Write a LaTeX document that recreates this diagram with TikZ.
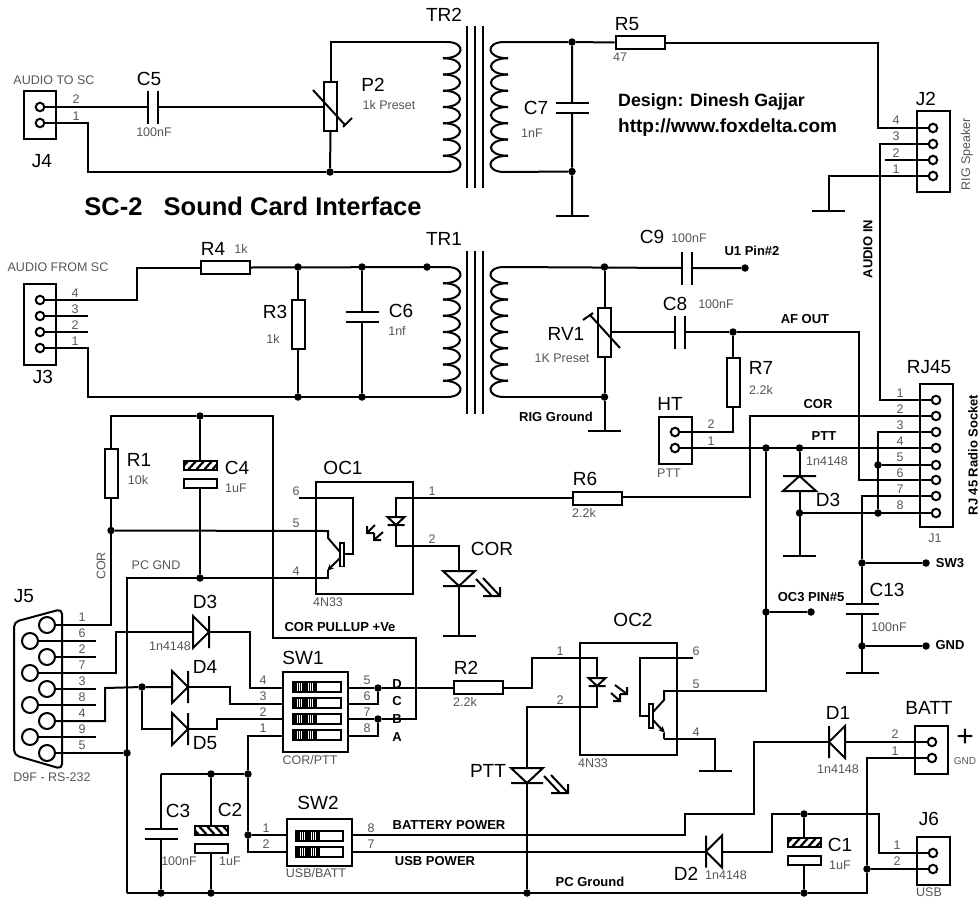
\documentclass[tikz,border=0pt]{standalone}
\usepackage{fontspec}
\setmainfont{Liberation Sans}
\usetikzlibrary{arrows.meta}
\definecolor{lblgray}{HTML}{555555}
\tikzset{
  wire/.style={line width=2pt,line join=miter},
  pinc/.style={circle,draw,fill=white,line width=2pt,minimum size=8.5pt,inner sep=0pt},
  dbpin/.style={circle,draw,fill=white,line width=2pt,minimum size=16pt,inner sep=0pt},
  jdot/.style={circle,fill=black,minimum size=7.5pt,inner sep=0pt},
  boxn/.style={rectangle,draw,line width=2pt,inner sep=0pt},
  hres/.style={boxn,minimum width=49pt,minimum height=13pt},
  vres/.style={boxn,minimum width=13pt,minimum height=49pt},
  lbig/.style={inner sep=0pt,font=\fontsize{19}{20}\selectfont},
  lsmall/.style={inner sep=0pt,text=lblgray,font=\fontsize{12.5}{13}\selectfont},
  lpin/.style={inner sep=0pt,text=lblgray,font=\fontsize{12.5}{13}\selectfont},
  lbold/.style={inner sep=0pt,font=\fontsize{13}{14}\selectfont\bfseries},
  ldes/.style={inner sep=0pt,anchor=west,font=\bfseries},
}
% capacitor, plates across a horizontal wire
\newcommand\schCapH[3]{\draw[wire] (#2-5,#3-16.5)--(#2-5,#3+16.5) (#2+5,#3-16.5)--(#2+5,#3+16.5);
  \coordinate (#1-l) at (#2-5,#3); \coordinate (#1-r) at (#2+5,#3);}
% capacitor, plates across a vertical wire
\newcommand\schCapV[3]{\draw[wire] (#2-16.5,#3-5)--(#2+16.5,#3-5) (#2-16.5,#3+5)--(#2+16.5,#3+5);
  \coordinate (#1-t) at (#2,#3-5); \coordinate (#1-b) at (#2,#3+5);}
% polarised capacitor: x, top of hatched bar, hatch direction
\newcommand\schCapP[4]{%
  \begin{scope}
    \clip (#2-16.5,#3) rectangle (#2+16.5,#3+9);
    \foreach \k in {-24,-16,...,24}{\draw[line width=2.2pt] (#2+\k-5*#4,#3+10)--(#2+\k+5*#4,#3-1);}
  \end{scope}
  \draw[wire] (#2-16.5,#3) rectangle (#2+16.5,#3+9);
  \draw[wire] (#2-16.5,#3+18) rectangle (#2+16.5,#3+26.5);
  \coordinate (#1-t) at (#2,#3); \coordinate (#1-b) at (#2,#3+26.5);}
\newcommand\schGnd[3]{\draw[wire] (#2-16.5,#3)--(#2+16.5,#3); \coordinate (#1) at (#2,#3);}
% diode pointing right: x of base, y
\newcommand\schDioR[3]{\draw[wire] (#2,#3-16)--(#2,#3+16)--(#2+16,#3)--cycle (#2+16,#3-16)--(#2+16,#3+16);
  \coordinate (#1-a) at (#2,#3); \coordinate (#1-k) at (#2+16,#3);}
% diode pointing left: x of bar, y
\newcommand\schDioL[3]{\draw[wire] (#2+16,#3-16)--(#2+16,#3+16)--(#2,#3)--cycle (#2,#3-16)--(#2,#3+16);
  \coordinate (#1-a) at (#2+16,#3); \coordinate (#1-k) at (#2,#3);}
% LED pointing down with its two rays: x, y of triangle top
\newcommand\schLed[3]{\draw[wire] (#2-16,#3)--(#2+16,#3)--(#2,#3+15)--cycle (#2-16,#3+15)--(#2+16,#3+15);
  \draw[wire] (#2+17,#3+8)--(#2+33,#3+25) (#2+24,#3+7)--(#2+41,#3+25) (#2+24,#3+25)--(#2+41,#3+25)--(#2+41,#3+16);
  \coordinate (#1-a) at (#2,#3); \coordinate (#1-k) at (#2,#3+15);}
% small LED in an optocoupler
\newcommand\schLedS[3]{\draw[wire] (#2-8.5,#3)--(#2+8.5,#3)--(#2,#3+8)--cycle (#2-8.5,#3+8)--(#2+8.5,#3+8);
  \coordinate (#1-a) at (#2,#3); \coordinate (#1-k) at (#2,#3+8);}
% transformer winding: name, cusp x, side (+1 lobes right, -1 lobes left), top y
\newcommand\schCoil[4]{%
  \foreach \i in {1,...,6}{\draw[wire] (#2,#4+16.25*\i) .. controls (#2+#3*22.7,#4+16.25*\i) and (#2+#3*22.7,#4+16.25*\i+16.25) .. (#2,#4+16.25*\i+16.25);}
  \draw[wire] (#2+#3*4,#4) .. controls (#2+#3*22.7,#4) and (#2+#3*22.7,#4+16.25) .. (#2,#4+16.25);
  \draw[wire] (#2,#4+113.75) .. controls (#2+#3*22.7,#4+113.75) and (#2+#3*22.7,#4+130) .. (#2+#3*4,#4+130);
  \coordinate (#1-t) at (#2+#3*4,#4); \coordinate (#1-b) at (#2+#3*4,#4+130);}
% DIP switch toggle: x left, x split, x right, y top
\newcommand\schTog[4]{\draw[wire] (#1,#4) rectangle (#3,#4+10);
  \fill (#1,#4) rectangle (#1+1.5,#4+10);
  \foreach \k in {3.2,5.4,...,23}{\draw[line width=1.5pt] (#1+\k,#4)--(#1+\k,#4+10);}
  \fill (#2-2.5,#4) rectangle (#2,#4+10);}
\begin{document}
\begin{tikzpicture}[x=1pt,y=-1pt]
\useasboundingbox (0,0) rectangle (980,905);

% ---- components: top
\node[boxn,minimum width=32pt,minimum height=48pt] (J4) at (40,115) {};
\node[boxn,minimum width=13pt,minimum height=49pt] (P2) at (330.5,106.5) {};
\schCapH{C5}{153}{107}
\schCoil{T2L}{443}{1}{42}
\schCoil{T2R}{508}{-1}{42}
\foreach \x in {467,475,483}{\draw[wire] (\x,26)--(\x,188);}
\node[hres] (R5) at (640,42.5) {};
\schCapV{C7}{572}{108}
\schGnd{G7}{572}{216}
\node[boxn,minimum width=33pt,minimum height=81pt] (J2) at (933.5,151.5) {};
\schGnd{G2}{828.5}{211}

% ---- components: TR1
\node[boxn,minimum width=32pt,minimum height=81pt] (J3) at (40,324.5) {};
\node[hres] (R4) at (225.5,267.5) {};
\node[vres] (R3) at (298,324.5) {};
\schCapV{C6}{362}{316.5}
\schCoil{T1L}{443}{1}{267}
\schCoil{T1R}{508}{-1}{267}
\foreach \x in {467,475,483}{\draw[wire] (\x,251)--(\x,414);}
\schCapH{C9}{687}{268}
\node[vres] (RV1) at (604.5,332.5) {};
\schCapH{C8}{680}{332}
\node[vres] (R7) at (733,382) {};
\schGnd{G1}{604.5}{431}
\node[boxn,minimum width=33pt,minimum height=47pt] (HT) at (675.5,440.5) {};
\node[boxn,minimum width=33pt,minimum height=143pt] (J1) at (936.5,455.5) {};

% ---- components: middle
\node[vres] (R1) at (111,473.5) {};
\schCapP{C4}{200}{461}{1}
\node[boxn,minimum width=97pt,minimum height=112pt] (OC1) at (364.5,538) {};
\node[hres] (R6) at (597.5,498) {};
\schLedS{L1}{396}{517}
\schLed{LC}{459}{571}
\schGnd{GC}{459}{636}
\schDioR{D3a}{193}{632}
\schDioR{D4}{172}{687}
\schDioR{D5}{172}{729}
\node[boxn,minimum width=65pt,minimum height=80pt] (SW1) at (315.5,712) {};
\node[hres] (R2) at (478.5,687.5) {};
\node[boxn,minimum width=97pt,minimum height=112pt] (OC2) at (628.5,699) {};
\schLedS{L2}{597}{678}
\schLed{LP}{527}{768}
\schGnd{G3}{715}{771}
\node[boxn,minimum width=65pt,minimum height=47pt] (SW2) at (319.5,842.5) {};
\schCapP{C2}{211}{826}{-1}
\schCapV{C3}{161}{833.5}
\schCapV{C13}{862}{609}
\schGnd{G13}{862}{673}
\schGnd{G8}{799.5}{556}
\draw[wire] (783,476)--(816,476) (799.5,476)--(783,491)--(816,491)--cycle;
\coordinate (D3b-k) at (799.5,476); \coordinate (D3b-a) at (799.5,491);
\schDioL{D1}{829}{742}
\schDioL{D2}{706}{851.5}
\schCapP{C1}{804}{838}{1}
\node[boxn,minimum width=33pt,minimum height=48pt] (BATT) at (931.5,750) {};
\node[boxn,minimum width=33pt,minimum height=48pt] (J6) at (933.5,861) {};
\draw[wire,rounded corners=5pt] (14,622)--(62,609)--(62,769)--(14,755)--cycle;

% ---- junctions
\foreach \n/\x/\y in {a/330/172, b/572/42, c/572/171.5, d/298/267, e/362/267, f/427/267, g/298/397, h/362/397,
  i/604.5/267, j/745/268, k/604.5/397, l/733/332, m/200/416, n/111/530.5, o/200/578, p/127/753,
  q/142/687, r/378/688, s/378/719, t/248/774, u/211/774, v/248/835, w/161/893, x/211/893, y/527/893,
  z/804/814, aa/804/893, ab/867/869, ac/766/448, ad/799.5/448, ae/799.5/513, af/878/465, ag/878/513,
  ah/862/563, ai/862/646, aj/766/612}
  {\node[jdot] (\n) at (\x,\y) {};}
\node[jdot] (sw3) at (926,563) {};
\node[jdot] (gndp) at (926,646) {};
\node[jdot] (oc3) at (811,612) {};

% ---- connector pins
\foreach \n/\x/\y in {J4a/40/107, J4b/40/123, J3d/40/300, J3c/40/316, J3b/40/332, J3a/40/348,
  J2d/933/128, J2c/933/144, J2b/933/160, J2a/933/176, HTb/675/432, HTa/675/448,
  Ja/936/400, Jb/936/416, Jc/936/432, Jd/936/448, Je/936/465, Jf/936/480, Jg/936/496, Jh/936/513,
  BATb/932/742, BATa/932/758, J6a/933/853, J6b/933/869}
  {\coordinate (\n) at (\x,\y);}

% ---- wires: top
\draw[wire] (J4a)--(C5-l) (C5-r)--(P2.west |- C5-r);
\draw[wire] (P2.north) |- (T2L-t);
\draw[wire] (P2.south)--(a);
\draw[wire] (J4b)--(88,123)|-(a.west) (a)--(T2L-b);
\draw[wire] (T2R-t)--(b)--(R5.west);
\draw[wire] (R5.east)-|(878,128)--(J2d);
\draw[wire] (b)--(C7-t) (C7-b)--(c) (c)--(G7) (c)--(T2R-b);
\draw[wire] (J2c)--(880,144)|-(Ja);
\draw[wire] (885,160)--(J2b);
\draw[wire] (J2a)-|(G2);

% ---- wires: TR1
\draw[wire] (J3d)--(137,300)|-(R4.west);
\draw[wire] (R4.east)--(T1L-t);
\draw[wire] (d)--(R3.north) (R3.south)--(g);
\draw[wire] (e)--(C6-t) (C6-b)--(h);
\draw[wire] (J3c)--(88,316) (J3b)--(88,332);
\draw[wire] (J3a)--(88,348)|-(T1L-b);
\draw[wire] (T1R-t)--(C9-l) (C9-r)--(j);
\draw[wire] (i)--(RV1.north) (RV1.south)--(k)--(G1) (k)--(T1R-b);
\draw[wire] (RV1.east |- C8-l)--(C8-l) (C8-r)--(l);
\draw[wire] (l)--(859,332)|-(Jf);
\draw[wire] (l)--(R7.north);
\draw[wire] (R7.south)|-(HTb);
\draw[wire] (HTa)--(Jd);
\draw[wire] (Jb)-|(750,497)--(R6.east |- 0,497);
\draw[wire] (R6.west)--(396,498)--(L1-a);
\draw[wire] (L1-k)--(396,546)-|(LC-a);
\draw[wire] (LC-k)--(GC);
\draw[wire] (Jc)-|(ag);
\draw[wire] (af)--(Je);
\draw[wire] (ae)--(Jh);
\draw[wire] (ad)--(D3b-k) (D3b-a)--(G8);
\draw[wire] (Jg)-|(ah) (ah)--(C13-t) (C13-b)--(G13);
\draw[wire] (ah)--(sw3) (ai)--(gndp);
\draw[wire] (ac)--(766,691)--(665,691);
\draw[wire] (aj)--(oc3);

% ---- wires: OC1, R1, C4
\draw[wire] (R1.north)|-(m.west) (m)--(273,416)--(273,638)-|(416,719)--(s);
\draw[wire] (R1.south)--(n) (n)--(111,625)--(47,625);
\draw[wire] (m)--(C4-t) (C4-b)--(o);
\draw[wire] (n)--(328,531)--(328,538)--(340,552);
\draw[wire] (127,893)--(127,578)--(328,578)--(328,570);
\draw[wire,-{Stealth[length=7pt,width=6pt]}] (340,558)--(327,571);
\draw[line width=1.4pt,fill=white] (340,543) rectangle (344,566.5);
\draw[wire] (299,498)--(353,498)--(353,554)--(344,554);
\draw[wire] (375,525)--(367,533) (367,526)--(367,533)--(374,533);
\draw[wire] (383,532)--(374,540) (374,533)--(374,540)--(381,540);

% ---- wires: J5
\draw[wire] (38,641)--(96,641) (47,657)--(96,657) (47,689)--(96,689) (38,705)--(96,705) (38,737)--(96,737);
\draw[wire] (38,673)--(116,673)--(116,632)--(D3a-a);
\draw[wire] (D3a-k)--(250,632)--(250,688)--(283,688);
\draw[wire] (47,721)--(105,721)--(105,688)--(q)--(D4-a);
\draw[wire] (q)|-(D5-a);
\draw[wire] (47,753)--(p);
\draw[wire] (D4-k)--(230,687)--(230,704)--(283,704);
\draw[wire] (D5-k)--(217,729)--(217,719)--(283,719);
\draw[wire] (283,736)--(248,736)--(t) (t)--(v) (v)--(287,835) (v)--(248,852)--(287,852);
\draw[wire] (161,774)--(t) (161,774)--(C3-t) (C3-b)--(w);
\draw[wire] (u)--(C2-t) (C2-b)--(x);
\draw[wire] (348,688)--(r) (r)--(R2.west |- r) (348,704)--(378,704)--(r);
\draw[wire] (348,719)--(s) (348,736)--(378,736)--(s);

% ---- wires: OC2
\draw[wire] (R2.east)-|(532,658)-|(L2-a);
\draw[wire] (L2-k)|-(527,707)--(LP-a);
\draw[wire] (LP-k)--(y);
\draw[wire] (693,658)--(640,658)--(640,716)--(649,716);
\draw[wire] (653,712)--(664,700)--(664,691)--(665,691);
\draw[wire] (664,739)--(664,733);
\draw[wire,-{Stealth[length=7pt,width=6pt]}] (653,720)--(665,733);
\draw[wire] (664,739)-|(G3);
\draw[line width=1.4pt,fill=white] (649,704) rectangle (653,728);
\draw[wire] (615,685)--(627,694) (627,687)--(627,694)--(620,694);
\draw[wire] (611,693)--(620,701) (620,694)--(620,701)--(613,701);

% ---- wires: power
\draw[wire] (BATb)--(D1-a) (D1-k)--(754,742)--(754,814)--(685,814)--(685,835)--(352,835);
\draw[wire] (BATa)--(867,758)--(ab) (ab)--(J6b) (ab)|-(aa.east);
\draw[wire] (J6a)--(879,853)--(879,814)--(z)--(772,814)--(772,851.5)--(D2-a);
\draw[wire] (D2-k)--(352,851.5);
\draw[wire] (z)--(C1-t) (C1-b)--(aa);
\draw[wire] (127,893)--(aa);
\draw[wire] (p)--(127,753);

% ---- connector pins on top of the wires
\foreach \n/\x/\y in {J4a/40/107, J4b/40/123, J3d/40/300, J3c/40/316, J3b/40/332, J3a/40/348,
  J2d/933/128, J2c/933/144, J2b/933/160, J2a/933/176, HTb/675/432, HTa/675/448,
  Ja/936/400, Jb/936/416, Jc/936/432, Jd/936/448, Je/936/465, Jf/936/480, Jg/936/496, Jh/936/513,
  BATb/932/742, BATa/932/758, J6a/933/853, J6b/933/869}
  {\node[pinc] (\n-c) at (\x,\y) {};}
\foreach \y in {625,657,689,721,753}{\node[dbpin] (J5r\y) at (47,\y) {};}
\foreach \y in {641,673,705,737}{\node[dbpin] (J5l\y) at (30,\y) {};}

% ---- presets
\draw[wire] (313,90)--(345,125) (343,127)--(352,118);
\draw[wire] (590,315)--(620,348) (583,320)--(593,313);

% ---- DIP switches
\foreach \y in {682,698,714,730}{\schTog{293}{317}{341}{\y}}
\foreach \y in {831,846.5}{\schTog{296}{320}{343}{\y}}

% ---- big labels
\foreach \n/\t/\x/\y in {a/TR2/444/15, b/C5/149/79, c/J4/42/161, d/P2/373/85, e/TR1/444/239, f/R4/213/249, g/J3/43/377,
  h/R3/275/312, i/C6/401/311, j/R5/627/24, k/C7/536/108, l/J2/926/99, m/C9/652/237, n/C8/675/304, o/RV1/566/334,
  p/R7/761/368, q/RJ45/929/367, r/HT/670/404, s/R6/585/479, t/R1/139/460, u/C4/237/468, v/OC1/343/468, w/COR/492/549,
  x/J5/24/596, y/D3/205/602, z/D4/205/667, aa/D5/205/743, ab/SW1/303/658, ac/R2/466/668, ad/C3/178/811, ae/C2/230/810,
  af/SW2/318/803, ag/D3/828/500, ah/C13/887/590, ai/OC2/633/620, aj/PTT/488/771, ak/D1/838/713, al/BATT/929/708,
  am/J6/929/819, an/D2/686/874, ao/C1/840/845}
  {\node[lbig] (B\n) at (\x,\y) {\t};}
\node[inner sep=0pt,font=\fontsize{30}{30}\selectfont] (plus) at (965,738) {+};

% ---- small labels
\foreach \n/\t/\x/\y in {a/AUDIO TO SC/54/80, b/100nF/154/132, c/1k Preset/389/105, d/AUDIO FROM SC/58/267, e/1k/241/249,
  f/1k/273/339, g/1nf/397/331, h/47/620/57, i/1nF/532/133, j/100nF/689/238, k/100nF/716/304, l/1K Preset/562/358,
  m/2.2k/761/390, n/PTT/669/473, o/J1/935/538, p/1n4148/827/461, q/2.2k/584/513, r/100nF/889/627, s/10k/138/480,
  t/1uF/236/488, u/4N33/328/602, v/PC GND/156/565, w/1n4148/170/646, x/{COR/PTT}/310/760, y/2.2k/465/702,
  z/D9F - RS-232/52/777, aa/100nF/179/861, ab/1uF/230/861, ac/{USB/BATT}/316/873, ad/4N33/593/763, ae/1n4148/838/769,
  af/1n4148/726/875, ag/1uF/840/865, ah/USB/929/892}
  {\node[lsmall] (S\n) at (\x,\y) {\t};}
\node[inner sep=0pt,text=lblgray,font=\fontsize{10}{11}\selectfont] (Sgnd) at (965,761) {GND};
\node[lsmall,rotate=90] (Srig) at (967,154) {RIG Speaker};
\node[lsmall,rotate=90] (Scor) at (101,566) {COR};

% ---- pin numbers
\foreach \t/\x/\y in {2/76/99, 1/76/116, 4/75/293, 3/75/309, 2/75/325, 1/75/341, 4/896/120, 3/896/136, 2/896/153, 1/896/169,
  2/711/424, 1/711/441, 1/900/393, 2/900/409, 3/900/425, 4/900/441, 5/900/457, 6/900/473, 7/900/489, 8/900/505,
  6/296/491, 5/296/523, 4/296/571, 1/432/491, 2/432/539,
  1/82/617, 6/82/633, 2/82/649, 7/82/665, 3/82/681, 8/82/697, 4/82/713, 9/82/729, 5/82/745,
  4/263/680, 3/263/696, 2/263/712, 1/263/728, 5/367/680, 6/367/696, 7/367/712, 8/367/728,
  1/266/828, 2/266/844, 8/371/828, 7/371/844, 1/560/651, 2/560/700, 6/696/651, 5/696/684, 4/696/732,
  2/895/734, 1/895/751, 1/897/845, 2/897/861}
  {\node[lpin] at (\x,\y) {\t};}

% ---- bold labels
\node[inner sep=0pt,font=\fontsize{25.5}{26}\selectfont\bfseries] (title) at (253,206) {SC-2\ \ \ Sound Card Interface};
\node[ldes] (des1) at (618,102) {\fontsize{17.8}{19}\selectfont Design: Dinesh Gajjar};
\node[ldes] (des2) at (618,128) {\fontsize{19}{20}\selectfont http://www.foxdelta.com};
\foreach \n/\t/\x/\y in {a/U1 Pin\#2/752/251, b/AF OUT/805/319, c/COR/818/404, d/PTT/824/436, e/RIG Ground/556/417,
  f/SW3/950/563, g/GND/950/645, h/OC3 PIN\#5/811/597, i/COR PULLUP +Ve/340/627, j/BATTERY POWER/449/825,
  k/USB POWER/435/861, l/PC Ground/590/882, m/D/397/684, n/C/397/701, o/B/397/719, p/A/397/737}
  {\node[lbold] (L\n) at (\x,\y) {\t};}
\node[lbold,rotate=90] (Laud) at (868,249) {AUDIO IN};
\node[lbold,rotate=90] (Lrj) at (973,455) {RJ 45 Radio Socket};
\end{tikzpicture}
\end{document}
